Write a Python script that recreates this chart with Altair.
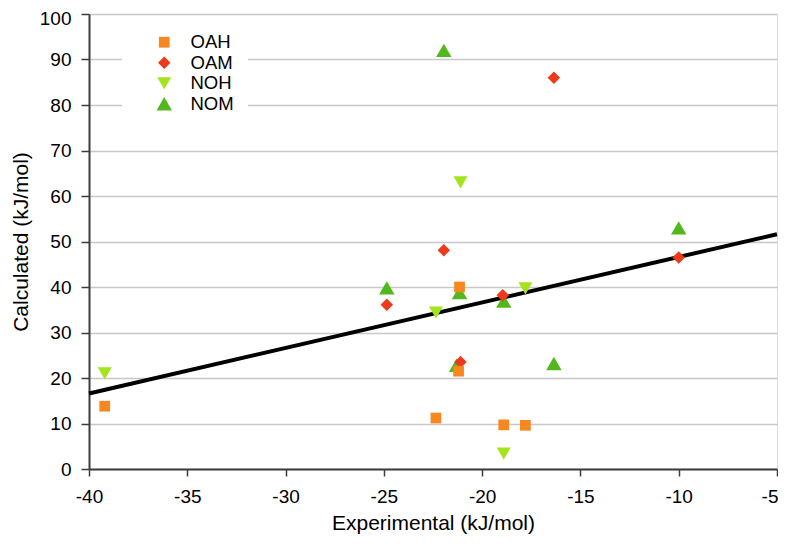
import altair as alt
import pandas as pd

# ---- data ----
series_names = ["OAH", "OAM", "NOH", "NOM"]

oah_x = [-39.2, -22.35, -21.2, -21.15, -18.9, -17.8]
oah_y = [13.8, 11.2, 21.5, 40.0, 9.7, 9.6]

oam_x = [-24.85, -21.95, -21.1, -18.95, -16.35, -10.0]
oam_y = [36.1, 48.1, 23.5, 38.2, 86.0, 46.5]

noh_x = [-39.2, -22.35, -21.1, -18.9, -17.8]
noh_y = [21.0, 34.4, 63.0, 3.4, 39.7]

nom_x = [-24.85, -21.95, -21.15, -21.3, -18.9, -16.35, -10.0]
nom_y = [39.8, 92.0, 38.8, 22.8, 36.9, 23.2, 53.0]

trend_x = [-40, -5]
trend_y = [16.6, 51.6]

x_ticks = [-40, -35, -30, -25, -20, -15, -10, -5]
y_ticks = [0, 10, 20, 30, 40, 50, 60, 70, 80, 90, 100]

colors = ["#F7871F", "#EE3A1A", "#A3E41C", "#52B91D"]
shapes = ["square", "diamond", "triangle-down", "triangle-up"]
sizes = [115, 240, 185, 185]

# draw order: NOM first (bottom), OAH last (top)
rows = []
for name, xs, ys in [("NOM", nom_x, nom_y), ("NOH", noh_x, noh_y),
                     ("OAM", oam_x, oam_y), ("OAH", oah_x, oah_y)]:
    for a, b in zip(xs, ys):
        rows.append({"series": name, "x": a, "y": b})
pts = pd.DataFrame(rows)
trend = pd.DataFrame({"x": trend_x, "y": trend_y})

FONT = "Liberation Sans"
AX = "#3C3C3C"

xscale = alt.Scale(domain=[-40, -5], nice=False, zero=False)
yscale = alt.Scale(domain=[0, 100], nice=False)

xaxis = alt.Axis(values=x_ticks, grid=False, title="Experimental (kJ/mol)",
                 labelExpr="'' + datum.value", labelFlush=False,
                 labelAlign=alt.condition("datum.value == -5",
                                          alt.value("right"), alt.value("center")),
                 labelOffset=alt.condition("datum.value == -5",
                                           alt.value(1), alt.value(0)),
                 domainColor=AX, domainWidth=2, tickColor=AX, tickWidth=1.5,
                 tickSize=7, labelFontSize=19, labelPadding=11, labelColor="black",
                 labelFont=FONT, titleFont=FONT, titleFontSize=21,
                 titleFontWeight="normal", titleColor="black", titleY=43)
yaxis = alt.Axis(values=y_ticks, grid=True, gridColor="#C8C8C8", gridWidth=1.5,
                 labelExpr="'' + datum.value",
                 labelOffset=alt.condition("datum.value == 100",
                                           alt.value(4), alt.value(0)),
                 title="Calculated (kJ/mol)", domainColor=AX, domainWidth=2,
                 tickColor=AX, tickWidth=1.5, tickSize=8, labelFontSize=19,
                 labelPadding=10, labelColor="black", labelFont=FONT,
                 titleFont=FONT, titleFontSize=21, titleFontWeight="normal",
                 titleColor="black", titleX=-58)

line = alt.Chart(trend).mark_line(color="black", strokeWidth=4).encode(
    x=alt.X("x:Q", scale=xscale, axis=xaxis),
    y=alt.Y("y:Q", scale=yscale, axis=yaxis),
)

legend = alt.Legend(title=None, orient="none", legendX=33, legendY=5,
                    fillColor="white", padding=14, symbolOffset=19,
                    labelOffset=17, labelFont=FONT, labelFontSize=18.5,
                    labelColor="black", rowPadding=1.5, symbolStrokeWidth=0)

points = alt.Chart(pts).mark_point(filled=True, opacity=1, strokeWidth=0).encode(
    x=alt.X("x:Q", scale=xscale),
    y=alt.Y("y:Q", scale=yscale),
    color=alt.Color("series:N", scale=alt.Scale(domain=series_names, range=colors),
                    legend=legend),
    shape=alt.Shape("series:N", scale=alt.Scale(domain=series_names, range=shapes),
                    legend=legend),
    size=alt.Size("series:N", scale=alt.Scale(domain=series_names, range=sizes),
                  legend=legend),
)

chart = alt.layer(line, points).properties(
    width=688, height=455,
    autosize=alt.AutoSizeParams(type="none"),
    padding={"left": 81, "top": 6, "right": 1, "bottom": 65},
).configure_view(stroke="#C8C8C8", strokeWidth=1.5).configure(background="white")

chart.save("out.html", embed_options={"renderer": "svg", "actions": False})
